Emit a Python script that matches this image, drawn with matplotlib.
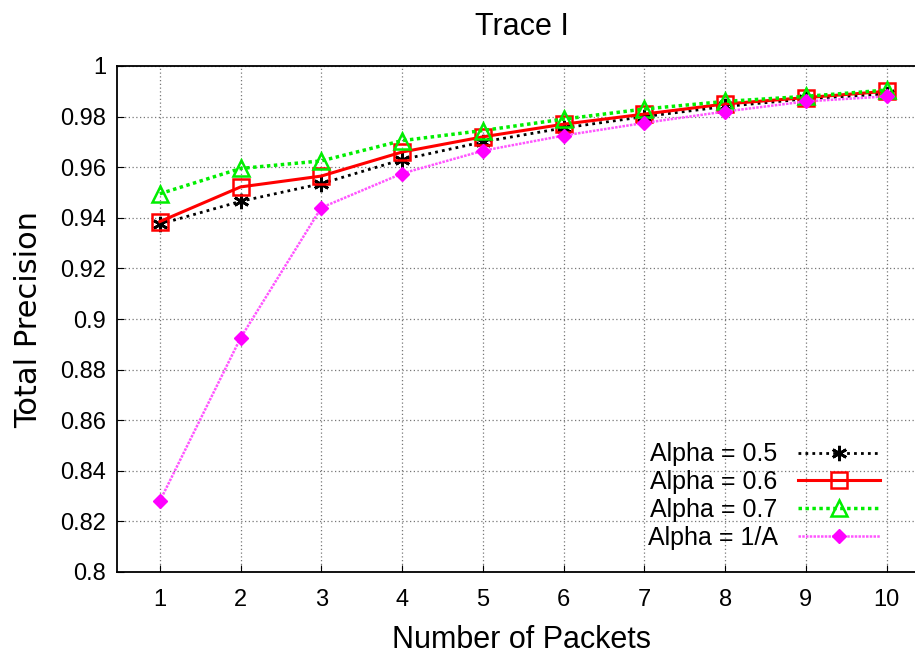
import matplotlib
matplotlib.use("Agg")
import matplotlib.pyplot as plt

plt.rcParams['font.family'] = ['Liberation Sans Narrow', 'Liberation Sans', 'DejaVu Sans']

packets = [1, 2, 3, 4, 5, 6, 7, 8, 9, 10]
alpha_05 = [0.9375, 0.9465, 0.9535, 0.9630, 0.9700, 0.9755, 0.9800, 0.9840, 0.9870, 0.9890]
alpha_06 = [0.9385, 0.9522, 0.9565, 0.9660, 0.9720, 0.9770, 0.9810, 0.9850, 0.9875, 0.9900]
alpha_07 = [0.9495, 0.9595, 0.9625, 0.9705, 0.9745, 0.9790, 0.9830, 0.9860, 0.9880, 0.9905]
alpha_inv = [0.8280, 0.8925, 0.9440, 0.9575, 0.9665, 0.9725, 0.9775, 0.9820, 0.9860, 0.9880]

fig = plt.figure(figsize=(9.15, 6.55), dpi=100)
ax = fig.add_axes([117 / 915, 1 - 572 / 655, (927 - 117) / 915, (572 - 66) / 655])

ax.plot(packets, alpha_05, color='black', linestyle=(0, (1, 1.5)), linewidth=2,
        marker=(6, 2, 0), markersize=11, markeredgewidth=2, label='Alpha = 0.5')
ax.plot(packets, alpha_06, color='#ff0000', linestyle='-', linewidth=2.2,
        marker='s', markersize=11, markerfacecolor='none', markeredgewidth=1.8,
        label='Alpha = 0.6')
ax.plot(packets, alpha_07, color='#00ee00', linestyle=(0, (1, 1)), linewidth=2.5,
        marker='^', markersize=11, markerfacecolor='none', markeredgewidth=1.8,
        label='Alpha = 0.7')
ax.plot(packets, alpha_inv, color='#ff55ff', linestyle=(0, (1, 0.5)), linewidth=1.8,
        marker='D', markersize=7, markerfacecolor='#ff00ff', markeredgecolor='#ff00ff',
        label='Alpha = 1/A')

ax.set_xlim(0.47, 10.5)
ax.set_ylim(0.8, 1.0)
ax.set_xticks(packets)
ax.set_yticks([0.8, 0.82, 0.84, 0.86, 0.88, 0.9, 0.92, 0.94, 0.96, 0.98, 1.0])
ax.set_yticklabels(['0.8', '0.82', '0.84', '0.86', '0.88', '0.9', '0.92', '0.94',
                    '0.96', '0.98', '1'])
ax.grid(True, color='#777777', linestyle=(0, (1, 2)), linewidth=0.9)
ax.tick_params(axis='both', labelsize=17, direction='in', length=5, pad=8)
ax.tick_params(axis='x', pad=12)
for s in ax.spines.values():
    s.set_linewidth(1.3)

ax.set_xlabel('Number of Packets', fontsize=22, labelpad=10)
ax.set_ylabel('Total Precision', fontsize=22, labelpad=12, family=['DejaVu Sans'])
ax.set_title('Trace I', fontsize=22, pad=22)

leg = ax.legend(loc='lower right', bbox_to_anchor=(0.97, 0.0), frameon=False,
                markerfirst=False, fontsize=18, handlelength=3.3, labelspacing=0.15,
                handletextpad=0.8)

fig.savefig('out.png', dpi=100)
